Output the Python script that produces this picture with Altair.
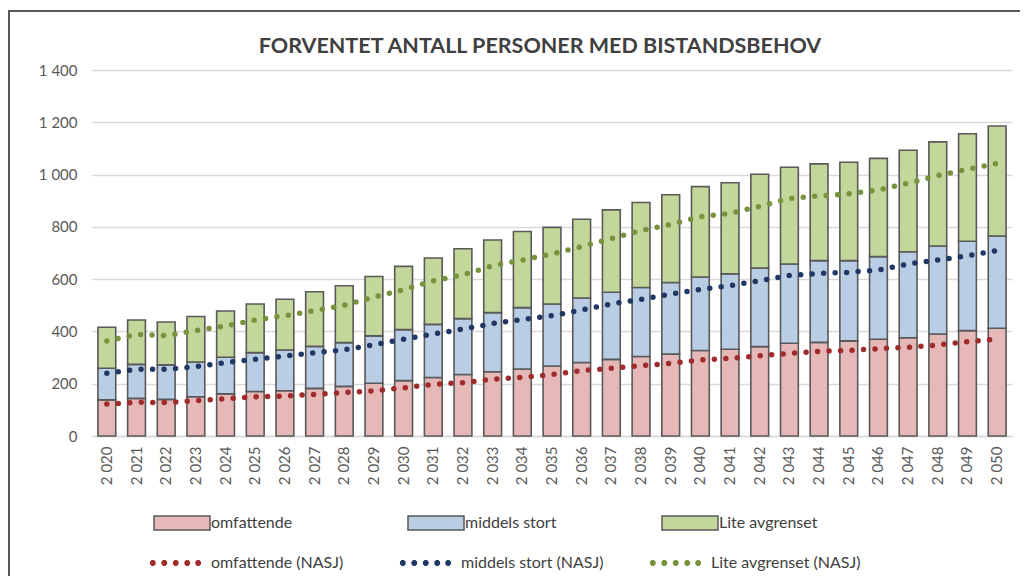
import altair as alt
import pandas as pd
import math

years = list(range(2020, 2051))

# stacked bar segments
omfattende = [138, 144, 140, 150, 161, 170, 173, 182, 190, 202, 212, 224, 235, 246, 256, 268,
              281, 293, 304, 313, 327, 332, 342, 355, 358, 364, 370, 376, 390, 403, 412]
middels_stort = [121, 130, 132, 133, 140, 149, 156, 161, 167, 181, 195, 203, 214, 226, 235, 237,
                 247, 257, 264, 274, 281, 288, 300, 303, 313, 307, 316, 329, 337, 342, 353]
lite_avgrenset = [157, 170, 164, 174, 177, 186, 194, 209, 218, 227, 242, 254, 267, 278, 291, 293,
                  301, 315, 325, 336, 346, 349, 359, 370, 370, 376, 376, 388, 398, 411, 421]

# national reference lines (cumulative levels)
omfattende_nasj = [122, 129, 128, 135, 142, 150, 153, 159, 166, 173, 184, 198, 204, 217, 224, 235,
                   250, 259, 269, 278, 291, 297, 307, 316, 324, 327, 334, 339, 348, 361, 370]
middels_nasj = [240, 255, 255, 265, 281, 293, 306, 318, 330, 349, 370, 390, 409, 430, 446, 460,
                482, 505, 523, 543, 561, 575, 594, 614, 622, 626, 635, 658, 673, 689, 710]
lite_nasj = [363, 389, 384, 403, 421, 444, 460, 480, 500, 531, 560, 594, 616, 651, 673, 696,
             724, 755, 786, 809, 839, 852, 878, 909, 918, 926, 941, 967, 996, 1020, 1043]

bar_names = ["omfattende", "middels stort", "Lite avgrenset"]
line_names = ["omfattende (NASJ)", "middels stort (NASJ)", "Lite avgrenset (NASJ)"]
bar_colors = ["#e6b9b8", "#b9cde5", "#c4d79b"]
line_colors = ["#a02b2b", "#1f3864", "#77933c"]

bar_rows = []
for i, (name, vals) in enumerate(zip(bar_names, [omfattende, middels_stort, lite_avgrenset])):
    for yr, v in zip(years, vals):
        bar_rows.append({"year": yr, "series": name, "value": v, "order": i})
bars_df = pd.DataFrame(bar_rows)

line_rows = []
for i, (name, vals) in enumerate(zip(line_names, [omfattende_nasj, middels_nasj, lite_nasj])):
    for yr, v in zip(years, vals):
        line_rows.append({"year": yr, "series": name, "value": v, "order": i})
lines_df = pd.DataFrame(line_rows)

FONT = "Lato"
GRAY = "#595959"
space_fmt = "replace(format(datum.value, ','), ',', ' ')"

x_enc = alt.X(
    "year:O",
    scale=alt.Scale(paddingInner=0.4, paddingOuter=0.2),
    axis=alt.Axis(
        title=None, labelAngle=-90, labelExpr=space_fmt, ticks=False,
        domainColor="#d9d9d9", domainWidth=1.3, labelPadding=10,
        labelFont=FONT, labelFontSize=15, labelColor=GRAY,
    ),
)
y_axis = alt.Axis(
    title=None, values=list(range(0, 1401, 200)), labelExpr=space_fmt,
    domain=False, ticks=False, gridColor="#d9d9d9", gridWidth=1.3,
    labelPadding=15, labelFont=FONT, labelFontSize=15, labelColor=GRAY,
)

bars = alt.Chart(bars_df).mark_bar(stroke=GRAY, strokeWidth=1.6).encode(
    x=x_enc,
    y=alt.Y("value:Q", stack="zero", scale=alt.Scale(domain=[0, 1400]), axis=y_axis),
    fill=alt.Fill(
        "series:N",
        scale=alt.Scale(domain=bar_names, range=bar_colors),
        sort=bar_names,
        legend=alt.Legend(
            title=None, orient="none", legendX=61, legendY=424, direction="horizontal",
            columns=3, gridAlign="all", columnPadding=95,
            symbolType="M-1,-0.25L1,-0.25L1,0.25L-1,0.25Z", symbolSize=3136,
            symbolStrokeColor=GRAY, symbolStrokeWidth=1.5, symbolOpacity=1,
            labelFont=FONT, labelFontSize=16, labelColor="#404040", labelOffset=0,
        ),
    ),
    order=alt.Order("order:Q", sort="ascending"),
)

# legend glyph: five small octagons in a row (stroked thickly so they read as dots)
def octagon(cx, r=0.05):
    pts = [(cx + r * math.cos(math.pi / 8 + k * math.pi / 4), r * math.sin(math.pi / 8 + k * math.pi / 4))
           for k in range(8)]
    return "M" + "L".join(f"{px:.3f},{py:.3f}" for px, py in pts) + "Z"

dots_path = "".join(octagon(c) for c in [-0.9, -0.49, -0.08, 0.33, 0.72])

lines = alt.Chart(lines_df).mark_line(
    strokeDash=[0, 11.5], strokeCap="round", strokeWidth=5.5
).encode(
    x=x_enc,
    y=alt.Y("value:Q"),
    stroke=alt.Stroke(
        "series:N",
        scale=alt.Scale(domain=line_names, range=line_colors),
        sort=line_names,
        legend=alt.Legend(
            title=None, orient="none", legendX=56, legendY=463, direction="horizontal",
            columns=3, gridAlign="all", columnPadding=34,
            symbolType=dots_path, symbolSize=3136, symbolStrokeWidth=3.2,
            symbolDash=[1, 0],
            labelFont=FONT, labelFontSize=16, labelColor="#404040", labelOffset=3,
        ),
    ),
)

frame = alt.Chart(pd.DataFrame({"a": [0]})).mark_rect(
    fill="transparent", stroke=GRAY, strokeWidth=2
).encode(
    x=alt.value(-83), x2=alt.value(1000), y=alt.value(-59), y2=alt.value(700)
)

chart = alt.layer(frame, bars, lines).properties(
    width=920,
    height=366,
    title=alt.TitleParams(
        text="FORVENTET ANTALL PERSONER MED BISTANDSBEHOV",
        anchor="middle", font=FONT, fontSize=21.5, fontWeight="bold",
        color="#404040", offset=12, dx=-12, dy=59,
    ),
    autosize=alt.AutoSizeParams(type="none"),
    padding={"left": 84, "top": 62, "right": 8, "bottom": 140},
).configure_view(stroke=None)

chart.save("out.html", embed_options={"renderer": "svg", "actions": False})
